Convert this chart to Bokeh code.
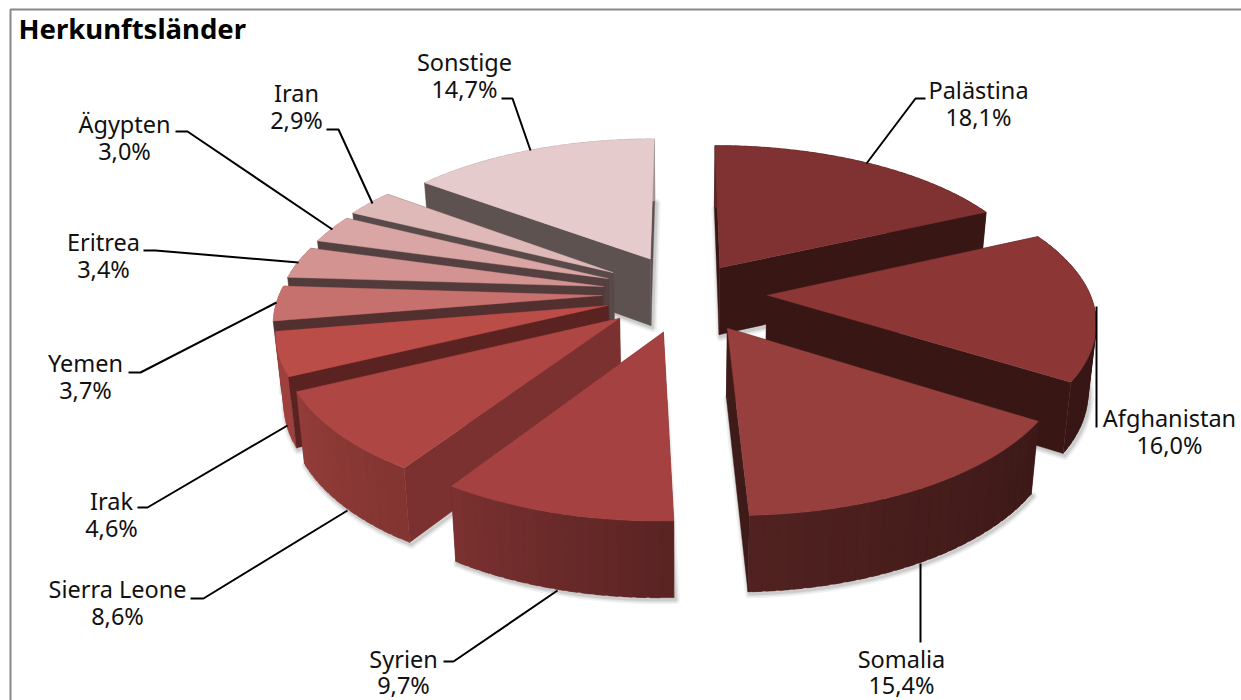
import math
from bokeh.plotting import figure
from bokeh.models import Range1d, ColumnDataSource
from bokeh.embed import file_html
from bokeh.resources import INLINE
from bokeh.core.properties import value

# ---- data -------------------------------------------------------------
title = "Herkunftsländer"
countries = ["Palästina", "Afghanistan", "Somalia", "Syrien", "Sierra Leone", "Irak",
             "Yemen", "Eritrea", "Ägypten", "Iran", "Sonstige"]
shares = [18.1, 16.0, 15.4, 9.7, 8.6, 4.6, 3.7, 3.4, 3.0, 2.9, 14.7]

# ---- styles ------------------------------------------------------------
top_colors = ["#7f3231", "#8c3736", "#963f3c", "#a54241", "#ae4743", "#bb4d49",
              "#c7716e", "#d29391", "#d9a6a5", "#dfb9b8", "#e5cbcc"]
cut_colors = ["#371614", "#371614", "#3e1a19", "#6e2c2a", "#7a3130", "#5a2220",
              "#533030", "#523b3b", "#544040", "#594a4a", "#5d5250"]
# slice displacement from the pie's centre (pie radius = 1)
explode_x = [.122, .265, .137, -.054, -.187, -.225, -.245, -.243, -.230, -.216, -.100]
explode_y = [.185, -.005, -.220, -.245, -.157, -.073, -.007, .054, .109, .151, .248]
draw_order = [10, 9, 8, 7, 6, 5, 4, 3, 0, 1, 2]

# camera of the pseudo-3D projection
VX, VY, SX, SY, PERSP = 681, 294, 323, 148, .15
SHRINK = .98

label_centers = [(978, 89), (1169, 417), (901, 658), (403, 658), (117, 588), (111, 500),
                 (85, 362), (103, 241), (124, 123), (296, 92), (464, 61)]
LINE_GAP = 27
LOWEST_TEXT = 684
leaders = [
    [(866, 163), (915, 98), (925, 98)],
    [(1096, 306), (1096, 427)],
    [(920, 563), (920, 642)],
    [(557, 590), (453, 661), (443, 661)],
    [(347, 510), (203, 598), (190, 598)],
    [(287, 425), (147, 507), (137, 507)],
    [(276, 302), (140, 372), (128, 372)],
    [(298, 262), (155, 250), (143, 250)],
    [(332, 229), (187, 131), (175, 131)],
    [(372, 203), (338, 129), (326, 129)],
    [(530, 150), (512, 98), (501, 98)],
]
FONT = "Noto Sans"


# ---- geometry ----------------------------------------------------------
def project(wx, wy, bottom=False):
    s = 1 / (1 + PERSP * wy)
    x = VX + SX * wx * s
    y = VY - SY * wy * s
    if bottom:
        x = VX + (x - VX) * SHRINK
        y = y + 30 + 38 * s
    return x, y


def rim(i, deg, bottom=False):
    a = math.radians(deg)
    return project(explode_x[i] + math.sin(a), explode_y[i] + math.cos(a), bottom)


def tip(i, bottom=False):
    return project(explode_x[i], explode_y[i], bottom)


def hex2rgb(h):
    return [int(h[k:k + 2], 16) for k in (1, 3, 5)]


def wall_factor(deg):
    pts = [(0, .75), (90, .41), (122, .40), (178, .54), (213, .75), (244, .85), (300, .85), (360, .75)]
    for (a0, f0), (a1, f1) in zip(pts, pts[1:]):
        if a0 <= deg <= a1:
            return f0 + (f1 - f0) * (deg - a0) / (a1 - a0)
    return .75


def shade(h, f):
    r, g, b = hex2rgb(h)
    return "#%02x%02x%02x" % (int(r * f), int(g * f), int(b * f))


total = sum(shares)
starts, ends = [], []
acc = 0.0
for v in shares:
    starts.append(acc / total * 360)
    acc += v
    ends.append(acc / total * 360)

polys_x, polys_y, polys_c = [], [], []
shadow_x, shadow_y = [], []


def add(points, color):
    polys_x.append([q[0] for q in points])
    polys_y.append([q[1] for q in points])
    polys_c.append(color)


for i in draw_order:
    a0, a1 = starts[i], ends[i]
    n = max(3, int((a1 - a0) / 2.0))
    angs = [a0 + (a1 - a0) * k / n for k in range(n + 1)]
    step = (a1 - a0) / n

    bot = [tip(i, True)] + [rim(i, t, True) for t in angs]
    shadow_x.append([q[0] + 1.5 for q in bot])
    shadow_y.append([q[1] + 2 for q in bot])

    start_face = [tip(i), rim(i, a0), rim(i, a0, True), tip(i, True)]
    end_face = [tip(i), rim(i, a1), rim(i, a1, True), tip(i, True)]
    show_start = math.sin(math.radians(a0)) < -1e-6
    show_end = math.sin(math.radians(a1)) > 1e-6

    if not show_start:
        add(start_face, cut_colors[i])
    if not show_end:
        add(end_face, cut_colors[i])
    # strips overlap the following one so that no seams show
    for t0, t1 in zip(angs, angs[1:]):
        te = min(a1, t1 + step * .7)
        add([rim(i, t0), rim(i, te), rim(i, te, True), rim(i, t0, True)],
            shade(top_colors[i], wall_factor((t0 + t1) / 2)))
    if show_start:
        add(start_face, cut_colors[i])
    if show_end:
        add(end_face, cut_colors[i])
    add([tip(i)] + [rim(i, t) for t in angs], top_colors[i])

# ---- figure ------------------------------------------------------------
p = figure(width=1241, height=700, x_range=Range1d(0, 1241), y_range=Range1d(700, 0),
           x_axis_type=None, y_axis_type=None, toolbar_location=None,
           output_backend="svg", min_border=0, outline_line_color=None,
           background_fill_color="white", border_fill_color="white")
p.grid.visible = False

# frame
p.line([10, 10, 1241], [700, 9, 9], line_color="#888888", line_width=2)

# soft shadow
for w, al in ((9, .07), (6, .10), (3, .16)):
    p.patches(shadow_x, shadow_y, fill_alpha=0, line_color="#555555", line_alpha=al,
              line_width=w, line_join="round")

# pie
p.patches("x", "y", source=ColumnDataSource(dict(x=polys_x, y=polys_y, c=polys_c)),
          fill_color="c", line_color="c", line_width=.4, line_join="round")

# leaders and labels
for pts in leaders:
    p.line([q[0] for q in pts], [q[1] for q in pts], line_color="black", line_width=2)

tx, ty, tt = [], [], []
for name, v, (cx, cy) in zip(countries, shares, label_centers):
    tx += [cx, cx]
    ty += [cy, min(cy + LINE_GAP, LOWEST_TEXT)]
    tt += [name, f"{v:.1f}".replace(".", ",") + "%"]
p.text(tx, ty, text=tt, text_font=value(FONT), text_font_size="23.5px", text_color="#111111",
       text_align="center", text_baseline="middle")
p.text([18], [28], text=[title], text_font=value(FONT), text_font_size="27.5px",
       text_font_style="bold", text_color="black", text_align="left", text_baseline="middle")

open("out.html", "w").write(file_html(p, INLINE))
